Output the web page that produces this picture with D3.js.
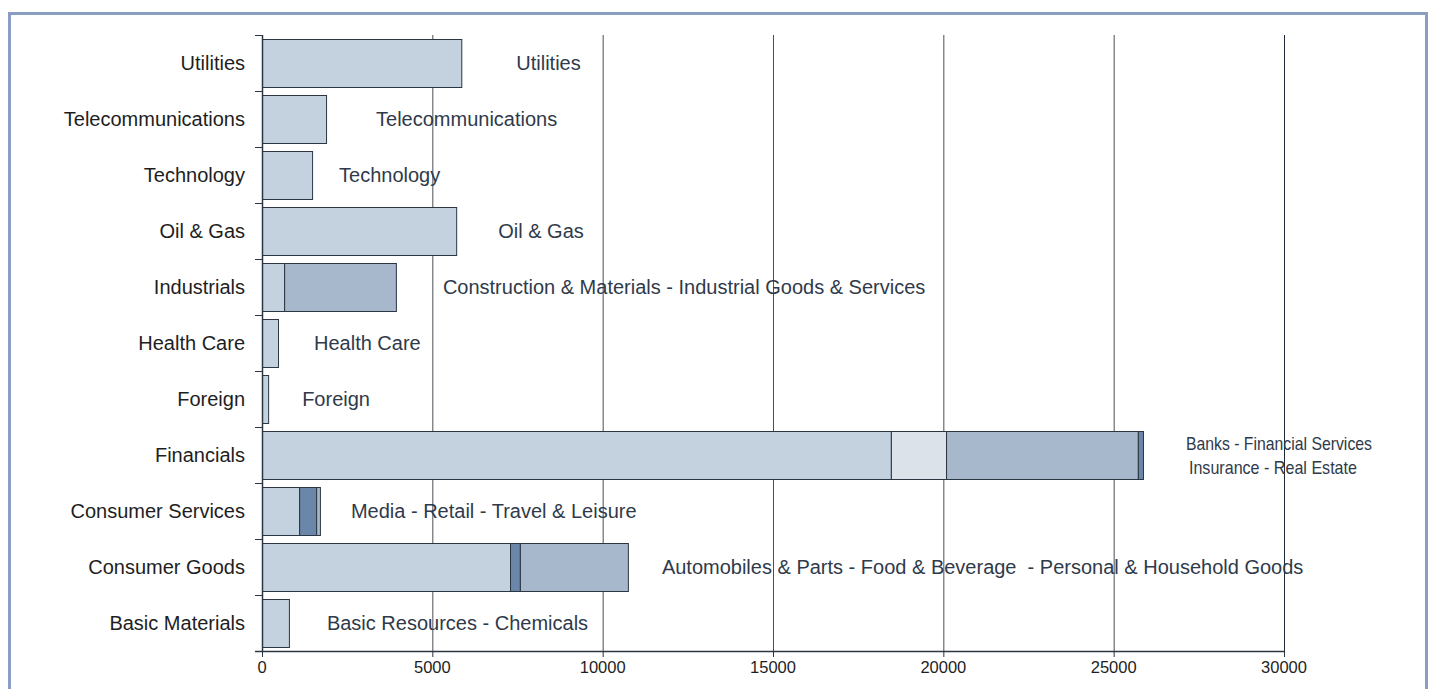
<!DOCTYPE html>
<html>
<head>
<meta charset="utf-8">
<script src="https://cdn.jsdelivr.net/npm/d3@7"></script>
<style>
  html, body { margin: 0; padding: 0; background: #fff; }
  svg { display: block; font-family: "Liberation Sans", Arial, sans-serif; }
  text { white-space: pre; }
</style>
</head>
<body>
<svg id="chart" width="1435" height="689"></svg>
<script>
// ---- data ----
const sectors = ["Utilities", "Telecommunications", "Technology", "Oil & Gas", "Industrials",
  "Health Care", "Foreign", "Financials", "Consumer Services", "Consumer Goods", "Basic Materials"];
// stacked segment values per sector (same order as sectors)
const utilitiesVals = [5850];
const telecomVals = [1880];
const technologyVals = [1470];
const oilGasVals = [5700];
const industrialsVals = [650, 3280];
const healthCareVals = [470];
const foreignVals = [180];
const financialsVals = [18460, 1620, 5630, 150];
const consServicesVals = [1090, 500, 110];
const consGoodsVals = [7280, 290, 3170];
const basicMaterialsVals = [790];
const segmentValues = [utilitiesVals, telecomVals, technologyVals, oilGasVals, industrialsVals,
  healthCareVals, foreignVals, financialsVals, consServicesVals, consGoodsVals, basicMaterialsVals];
// bar annotations
const annotations = [
  ["Utilities"], ["Telecommunications"], ["Technology"], ["Oil & Gas"],
  ["Construction & Materials - Industrial Goods & Services"], ["Health Care"], ["Foreign"],
  ["Banks - Financial Services", "Insurance - Real Estate"],
  ["Media - Retail - Travel & Leisure"],
  ["Automobiles & Parts - Food & Beverage  - Personal & Household Goods"],
  ["Basic Resources - Chemicals"]
];
const xTicks = [0, 5000, 10000, 15000, 20000, 25000, 30000];

// ---- styles (kept separate from data) ----
const C = { light: "#c4d1de", lighter: "#dbe2ea", mid: "#a7b8cd", dark: "#6a87a9" };
const segmentColors = [
  [C.light], [C.light], [C.light], [C.light], [C.light, C.mid], [C.light], [C.light],
  [C.light, C.lighter, C.mid, C.dark], [C.light, C.dark, C.mid], [C.light, C.dark, C.mid], [C.light]
];
const labelGap = [55, 50, 27, 42, 47, 36, 34, 43, 31, 34, 38];

const svg = d3.select("#chart");

// frame
svg.append("rect").attr("x", 9.5).attr("y", 13.5).attr("width", 1417).attr("height", 720)
  .attr("fill", "none").attr("stroke", "#8a9ec4").attr("stroke-width", 3);

const x = d3.scaleLinear().domain([0, 30000]).range([262, 1284]);
const y = d3.scaleBand().domain(sectors).range([35, 651]).paddingInner(0.1429).paddingOuter(0.0714);
const step = y.step();
const plotTop = 35, plotBottom = 651;

// grid lines
svg.append("g").selectAll("line").data(xTicks.slice(1)).join("line")
  .attr("x1", d => x(d) + 0.5).attr("x2", d => x(d) + 0.5)
  .attr("y1", plotTop).attr("y2", plotBottom)
  .attr("stroke", d => d === 30000 ? "#1f2b3a" : "#4a4f57").attr("stroke-width", 1);

// bars
const rows = sectors.map((s, i) => {
  let acc = 0;
  const segs = segmentValues[i].map((v, j) => {
    const seg = { x0: acc, x1: acc + v, color: segmentColors[i][j] };
    acc += v;
    return seg;
  });
  return { sector: s, segs, total: acc, idx: i };
});

const barG = svg.append("g");
rows.forEach(r => {
  barG.append("g").selectAll("rect").data(r.segs).join("rect")
    .attr("x", d => x(d.x0) + 0.5)
    .attr("y", y(r.sector) + 0.5)
    .attr("width", d => Math.max(0, x(d.x1) - x(d.x0)))
    .attr("height", y.bandwidth())
    .attr("fill", d => d.color)
    .attr("stroke", "#2c3542").attr("stroke-width", 1);
});

// annotations
rows.forEach(r => {
  const lines = annotations[r.idx];
  const cx = x(r.total) + labelGap[r.idx];
  const cy = y(r.sector) + y.bandwidth() / 2;
  if (lines.length === 1) {
    svg.append("text").attr("x", cx).attr("y", cy + 7)
      .attr("font-size", 20).attr("fill", "#2f3a4a").text(lines[0]);
  } else {
    svg.append("text").attr("x", cx).attr("y", cy - 5)
      .attr("font-size", 19).attr("fill", "#2f3a4a")
      .attr("textLength", 186).attr("lengthAdjust", "spacingAndGlyphs").text(lines[0]);
    svg.append("text").attr("x", cx + 3).attr("y", cy + 19)
      .attr("font-size", 19).attr("fill", "#2f3a4a")
      .attr("textLength", 168).attr("lengthAdjust", "spacingAndGlyphs").text(lines[1]);
  }
});

// y axis
const yAxisG = svg.append("g");
yAxisG.append("line").attr("x1", 262.5).attr("x2", 262.5).attr("y1", plotTop).attr("y2", plotBottom)
  .attr("stroke", "#2c3542").attr("stroke-width", 1.5);
const boundaries = sectors.map(s => y(s) - y.paddingInner() * step / 2);
yAxisG.selectAll("line.tick").data(boundaries).join("line").attr("class", "tick")
  .attr("x1", 255).attr("x2", 262).attr("y1", d => Math.round(d) + 0.5).attr("y2", d => Math.round(d) + 0.5)
  .attr("stroke", "#2c3542");
yAxisG.selectAll("text").data(sectors).join("text")
  .attr("x", 245).attr("y", d => y(d) + y.bandwidth() / 2 + 7)
  .attr("text-anchor", "end").attr("font-size", 20).attr("fill", "#1e1e1e").text(d => d);

// x axis
const xAxisG = svg.append("g");
xAxisG.append("line").attr("x1", 255).attr("x2", 1284).attr("y1", plotBottom + 0.5).attr("y2", plotBottom + 0.5)
  .attr("stroke", "#2c3542").attr("stroke-width", 1.5);
xAxisG.selectAll("line.tick").data(xTicks).join("line").attr("class", "tick")
  .attr("x1", d => x(d) + 0.5).attr("x2", d => x(d) + 0.5).attr("y1", plotBottom).attr("y2", plotBottom + 6)
  .attr("stroke", "#2c3542");
xAxisG.selectAll("text").data(xTicks).join("text")
  .attr("x", d => x(d)).attr("y", plotBottom + 22)
  .attr("text-anchor", "middle").attr("font-size", 16.5).attr("fill", "#1e1e1e").text(d => d);
</script>
</body>
</html>
